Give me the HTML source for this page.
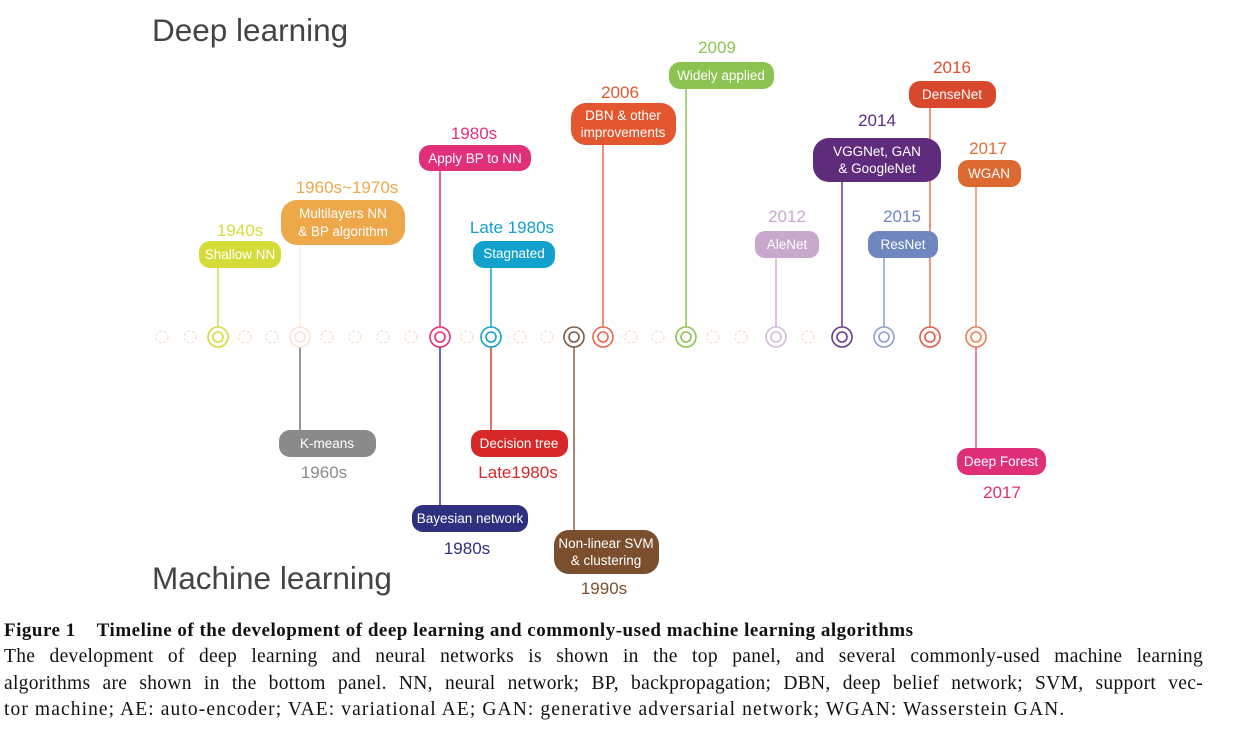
<!DOCTYPE html>
<html><head><meta charset="utf-8"><style>
html,body{margin:0;padding:0;background:#fff;width:1235px;height:737px;overflow:hidden;position:relative}
svg{position:absolute;left:0;top:0}
svg text{font-family:"Liberation Sans",sans-serif}
.cap{position:absolute;left:4px;width:1199px;font-family:"Liberation Serif",serif;font-size:19.5px;letter-spacing:1.1px;color:#111;white-space:nowrap;line-height:20px}
.j{text-align:justify;text-align-last:justify;white-space:normal;letter-spacing:0.3px}
</style></head><body>
<svg width="1235" height="737" viewBox="0 0 1235 737">
<text x="152" y="41" font-size="31.5" fill="#444">Deep learning</text>
<text x="152" y="589" font-size="31.5" fill="#444">Machine learning</text>
<g fill="none" stroke="#f6dcc8" stroke-width="1.2" stroke-dasharray="3 2">
<circle cx="162" cy="337" r="6"/><circle cx="190" cy="337" r="6"/><circle cx="245" cy="337" r="6"/><circle cx="272" cy="337" r="6"/><circle cx="327" cy="337" r="6"/><circle cx="355" cy="337" r="6"/><circle cx="383" cy="337" r="6"/><circle cx="411" cy="337" r="6"/><circle cx="467" cy="337" r="6"/><circle cx="520" cy="337" r="6"/><circle cx="547" cy="337" r="6"/><circle cx="631" cy="337" r="6"/><circle cx="658" cy="337" r="6"/><circle cx="713" cy="337" r="6"/><circle cx="741" cy="337" r="6"/><circle cx="808" cy="337" r="6"/>
</g>
<g stroke-width="1.5" fill="none">
<line x1="218" y1="268" x2="218" y2="327" stroke="#d5dc3a"/>
<line x1="300" y1="245" x2="300" y2="327" stroke="#fbeee6"/>
<line x1="300" y1="347" x2="300" y2="430" stroke="#777"/>
<line x1="440" y1="171" x2="440" y2="327" stroke="#e0307a"/>
<line x1="440" y1="347" x2="440" y2="505" stroke="#3a3b8a"/>
<line x1="491" y1="268" x2="491" y2="327" stroke="#12a0cc"/>
<line x1="491" y1="347" x2="491" y2="430" stroke="#d83a3a"/>
<line x1="574" y1="347" x2="574" y2="530" stroke="#8a6040"/>
<line x1="603" y1="145" x2="603" y2="327" stroke="#e86a4a"/>
<line x1="686" y1="89" x2="686" y2="327" stroke="#8cc350"/>
<line x1="776" y1="258" x2="776" y2="327" stroke="#d0b4d4"/>
<line x1="842" y1="182" x2="842" y2="327" stroke="#6a3a90"/>
<line x1="884" y1="258" x2="884" y2="327" stroke="#8aa0cc"/>
<line x1="930" y1="108" x2="930" y2="327" stroke="#e8705a"/>
<line x1="976" y1="187" x2="976" y2="327" stroke="#e88a60"/>
<line x1="976" y1="347" x2="976" y2="448" stroke="#e05090"/>
</g>
<g fill="#fff" stroke-width="1.6">
<g stroke="#d5dc3a"><circle cx="218" cy="337" r="10"/><circle cx="218" cy="337" r="5"/></g>
<g stroke="#f8e4d8"><circle cx="300" cy="337" r="10"/><circle cx="300" cy="337" r="5"/></g>
<g stroke="#e0307a"><circle cx="440" cy="337" r="10"/><circle cx="440" cy="337" r="5"/></g>
<g stroke="#12a0cc"><circle cx="491" cy="337" r="10"/><circle cx="491" cy="337" r="5"/></g>
<g stroke="#7b5a44"><circle cx="574" cy="337" r="10"/><circle cx="574" cy="337" r="5"/></g>
<g stroke="#e8684a"><circle cx="603" cy="337" r="10"/><circle cx="603" cy="337" r="5"/></g>
<g stroke="#8cc350"><circle cx="686" cy="337" r="10"/><circle cx="686" cy="337" r="5"/></g>
<g stroke="#d4bcd8"><circle cx="776" cy="337" r="10"/><circle cx="776" cy="337" r="5"/></g>
<g stroke="#6a3a90"><circle cx="842" cy="337" r="10"/><circle cx="842" cy="337" r="5"/></g>
<g stroke="#8aa0cc"><circle cx="884" cy="337" r="10"/><circle cx="884" cy="337" r="5"/></g>
<g stroke="#e45a40"><circle cx="930" cy="337" r="10"/><circle cx="930" cy="337" r="5"/></g>
<g stroke="#e88050"><circle cx="976" cy="337" r="10"/><circle cx="976" cy="337" r="5"/></g>
</g>
<g font-size="13.5" fill="#fff" text-anchor="middle">
<rect x="199" y="241" width="82" height="27" rx="11" fill="#d5dc3a"/><text x="240" y="259">Shallow NN</text>
<rect x="281" y="200" width="124" height="45" rx="16" fill="#eda84a"/><text x="343" y="218">Multilayers NN</text><text x="343" y="236">&amp; BP algorithm</text>
<rect x="419" y="145" width="112" height="26" rx="11" fill="#e0307a"/><text x="475" y="163">Apply BP to NN</text>
<rect x="473" y="241" width="82" height="27" rx="11" fill="#12a0cc"/><text x="514" y="258">Stagnated</text>
<rect x="571" y="103" width="105" height="42" rx="15" fill="#e4572e"/><text x="623" y="120">DBN &amp; other</text><text x="623" y="137">improvements</text>
<rect x="669" y="62" width="105" height="27" rx="11" fill="#8cc350"/><text x="721" y="80">Widely applied</text>
<rect x="755" y="231" width="64" height="27" rx="10" fill="#c8a8cc"/><text x="787" y="249">AleNet</text>
<rect x="813" y="138" width="128" height="44" rx="16" fill="#5e2c7a"/><text x="877" y="156">VGGNet, GAN</text><text x="877" y="173">&amp; GoogleNet</text>
<rect x="868" y="231" width="70" height="27" rx="10" fill="#6f86bf"/><text x="903" y="249">ResNet</text>
<rect x="909" y="81" width="87" height="27" rx="11" fill="#d8482c"/><text x="952" y="99">DenseNet</text>
<rect x="958" y="160" width="63" height="27" rx="10" fill="#dc6a30"/><text x="989" y="178">WGAN</text>
<rect x="279" y="430" width="97" height="27" rx="11" fill="#8a8a8a"/><text x="327" y="448">K-means</text>
<rect x="412" y="505" width="116" height="27" rx="11" fill="#2e2f7e"/><text x="470" y="523">Bayesian network</text>
<rect x="471" y="430" width="97" height="27" rx="11" fill="#d62828"/><text x="519" y="448">Decision tree</text>
<rect x="554" y="530" width="105" height="44" rx="15" fill="#7b4f2e"/><text x="606" y="548">Non-linear SVM</text><text x="606" y="565">&amp; clustering</text>
<rect x="957" y="448" width="89" height="27" rx="11" fill="#de2f78"/><text x="1001" y="466">Deep Forest</text>
</g>
<g font-size="17" text-anchor="middle">
<text x="240" y="236" fill="#d5dc3a">1940s</text>
<text x="347" y="193" fill="#eda84a">1960s~1970s</text>
<text x="474" y="139" fill="#e0307a">1980s</text>
<text x="512" y="233" fill="#12a0cc">Late 1980s</text>
<text x="620" y="98" fill="#e4572e">2006</text>
<text x="717" y="53" fill="#8cc350">2009</text>
<text x="787" y="222" fill="#c8a8cc">2012</text>
<text x="877" y="126" fill="#5e2c84">2014</text>
<text x="902" y="222" fill="#6f86bf">2015</text>
<text x="952" y="73" fill="#e04c2e">2016</text>
<text x="988" y="154" fill="#e06f36">2017</text>
<text x="324" y="478" fill="#8a8a8a">1960s</text>
<text x="467" y="554" fill="#2e2f7e">1980s</text>
<text x="518" y="478" fill="#d62828">Late1980s</text>
<text x="604" y="594" fill="#7b4f2e">1990s</text>
<text x="1002" y="498" fill="#de2f78">2017</text>
</g>
</svg>
<div class="cap" style="top:621px;font-weight:bold;font-size:19px;letter-spacing:0.5px">Figure 1&nbsp;&nbsp;&nbsp;&nbsp;Timeline of the development of deep learning and commonly-used machine learning algorithms</div>
<div class="cap j" style="top:647px">The development of deep learning and neural networks is shown in the top panel, and several commonly-used machine learning</div>
<div class="cap j" style="top:674px">algorithms are shown in the bottom panel. NN, neural network; BP, backpropagation; DBN, deep belief network; SVM, support vec-</div>
<div class="cap" style="top:700px">tor machine; AE: auto-encoder; VAE: variational AE; GAN: generative adversarial network; WGAN: Wasserstein GAN.</div>
</body></html>
